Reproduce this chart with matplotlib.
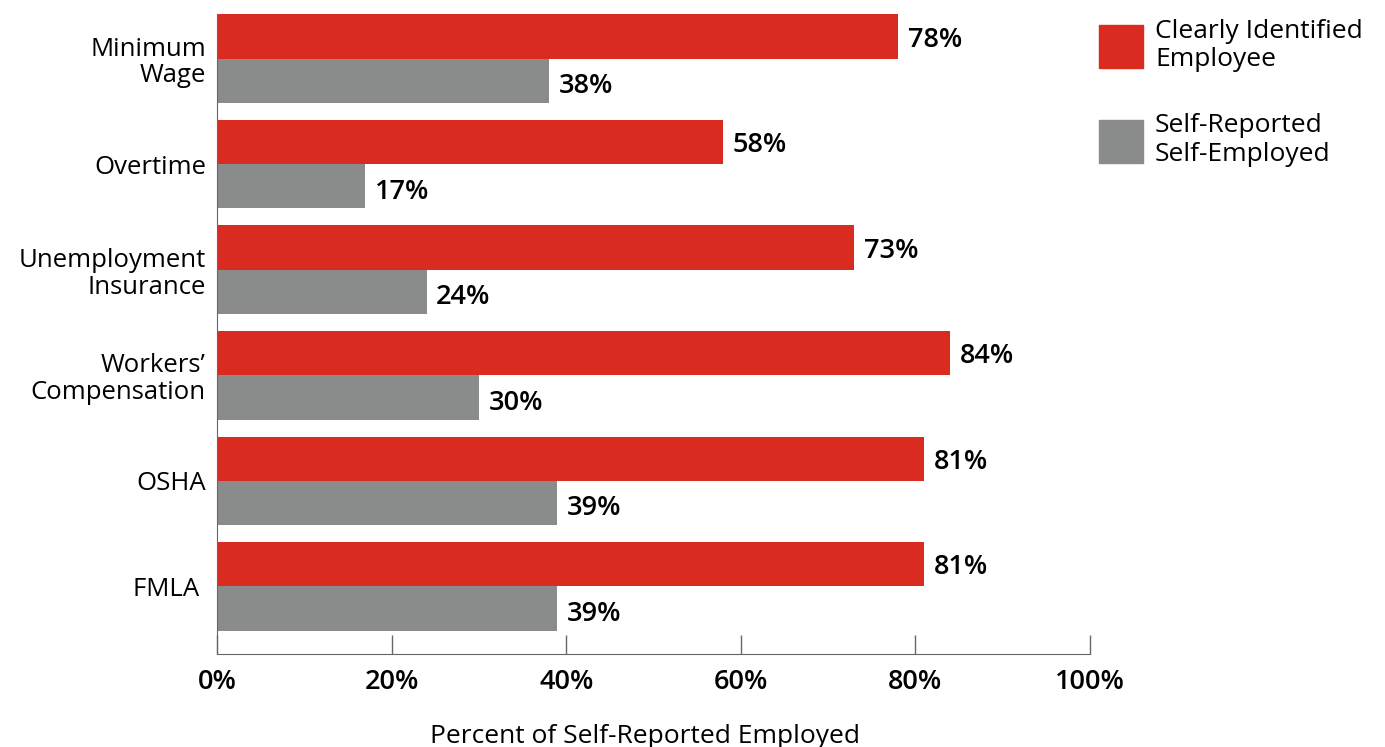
import numpy as np
import matplotlib.pyplot as plt
from matplotlib.patches import Patch

# Data
categories = ['Minimum\nWage', 'Overtime', 'Unemployment\nInsurance',
              "Workers’\nCompensation", 'OSHA', 'FMLA ']
employee = [78, 58, 73, 84, 81, 81]
self_employed = [38, 17, 24, 30, 39, 39]
x_ticks = [0, 20, 40, 60, 80, 100]
x_tick_labels = ['0%', '20%', '40%', '60%', '80%', '100%']

RED = '#D92B20'
GREY = '#8A8C8C'

plt.rcParams['font.family'] = ['Open Sans', 'DejaVu Sans']

fig = plt.figure(figsize=(13.85, 7.47), dpi=100)
ax = fig.add_axes([0.1567, 0.1245, 0.787 - 0.1567, 0.981 - 0.1245])

y = np.arange(len(categories))
h = 0.42
ax.barh(y - h / 2, employee, height=h, color=RED)
ax.barh(y + h / 2, self_employed, height=h, color=GREY)

# value labels at the end of each bar
for i in range(len(categories)):
    ax.text(employee[i] + 1.1, y[i] - h / 2 + 0.03, f'{employee[i]}%', va='center',
            ha='left', fontsize=19.5, fontweight='semibold')
    ax.text(self_employed[i] + 1.1, y[i] + h / 2 + 0.05, f'{self_employed[i]}%',
            va='center', ha='left', fontsize=19.5, fontweight='semibold')

ax.set_xlim(0, 100)
ax.set_ylim(5.64, -0.42)
ax.set_yticks(y)
ax.set_yticklabels(categories, fontsize=18.5, linespacing=1.1, ha='right')
ax.tick_params(axis='y', length=0, pad=8)
ax.set_xticks(x_ticks)
ax.set_xticklabels(x_tick_labels, fontsize=19.5, fontweight='semibold')
ax.tick_params(axis='x', direction='in', length=14, width=1, color='#666666', pad=10)

for s in ['top', 'right']:
    ax.spines[s].set_visible(False)
ax.spines['left'].set_color('#666666')
ax.spines['bottom'].set_color('#666666')

fig.text(0.466, 0.014, 'Percent of Self-Reported Employed', fontsize=19,
         ha='center', va='center')

handles = [Patch(color=RED, label='Clearly Identified\nEmployee'),
           Patch(color=GREY, label='Self-Reported\nSelf-Employed')]
fig.legend(handles=handles, loc='upper left', bbox_to_anchor=(0.7935, 0.975),
           frameon=False, fontsize=19, handlelength=1.67, handleheight=2.15,
           labelspacing=1.55, handletextpad=0.45, borderpad=0, borderaxespad=0)

fig.savefig('out.png', dpi=100)
